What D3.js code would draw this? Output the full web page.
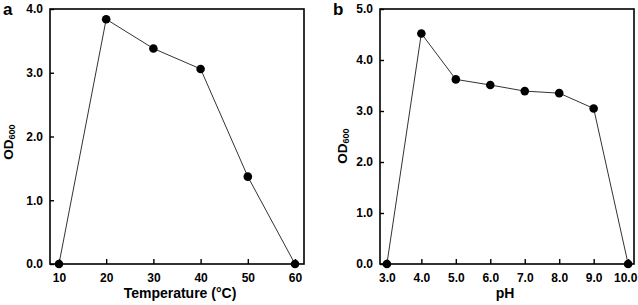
<!DOCTYPE html>
<html><head><meta charset="utf-8">
<script src="https://cdn.jsdelivr.net/npm/d3@7"></script>
<style>body{margin:0;background:#fff}svg{display:block}text{font-family:"Liberation Sans",Arial,sans-serif;font-weight:bold;fill:#000}</style>
</head><body>
<svg id="c" width="638" height="305"></svg>
<script>
const tempX = [10, 20, 30, 40, 50, 60];
const tempOD = [0, 3.84, 3.38, 3.06, 1.37, 0];
const tempTicks = [10, 20, 30, 40, 50, 60];
const tempYTicks = [0, 1, 2, 3, 4];

const phX = [3, 4, 5, 6, 7, 8, 9, 10];
const phOD = [0, 4.52, 3.62, 3.51, 3.39, 3.35, 3.05, 0];
const phTicks = [3, 4, 5, 6, 7, 8, 9, 10];
const phYTicks = [0, 1, 2, 3, 4, 5];

const svg = d3.select("#c");
const FF = '"Liberation Sans",Arial,sans-serif';

function panel(o) {
  const g = svg.append("g");
  const x = d3.scaleLinear().domain(o.xd).range([o.left, o.right]);
  const y = d3.scaleLinear().domain(o.yd).range([o.bottom, o.top]);
  g.append("rect").attr("x", o.left).attr("y", o.top)
    .attr("width", o.right - o.left).attr("height", o.bottom - o.top)
    .attr("fill", "none").attr("stroke", "#000").attr("stroke-width", 1.6);
  const xa = g.append("g").attr("transform", `translate(0,${o.bottom})`)
    .call(d3.axisBottom(x).tickValues(o.xt).tickSize(-5).tickPadding(9).tickFormat(o.xf));
  xa.select(".domain").remove();
  xa.selectAll("line").attr("stroke", "#000").attr("stroke-width", 1.4);
  xa.selectAll("text").attr("font-size", 12).attr("font-family", FF).attr("font-weight", "bold").attr("fill", "#000")
    .attr("dx", (d, i, n) => i === n.length - 1 ? o.lastDx : 0);
  const ya = g.append("g").attr("transform", `translate(${o.left},0)`)
    .call(d3.axisLeft(y).tickValues(o.yt).tickSize(-4).tickPadding(7).tickFormat(d3.format(".1f")));
  ya.select(".domain").remove();
  ya.selectAll("line").attr("stroke", "#000").attr("stroke-width", 1.4);
  ya.selectAll("text").attr("font-size", 12).attr("font-family", FF).attr("font-weight", "bold").attr("fill", "#000");
  const pts = o.xs.map((v, i) => [v, o.ys[i]]);
  g.append("path").datum(pts)
    .attr("d", d3.line().x(d => x(d[0])).y(d => y(d[1])))
    .attr("fill", "none").attr("stroke", "#333").attr("stroke-width", 1);
  g.selectAll("circle.m").data(pts).join("circle").attr("class", "m")
    .attr("cx", d => x(d[0])).attr("cy", d => y(d[1])).attr("r", 4.3).attr("fill", "#000");
  g.append("text").attr("x", o.letterX).attr("y", 15).attr("font-size", 17).text(o.letter);
  const yl = g.append("text").attr("transform", `translate(${o.ylX},${o.ylY}) rotate(-90)`)
    .attr("text-anchor", "middle").attr("font-size", 13.5);
  yl.append("tspan").text("OD");
  yl.append("tspan").attr("font-size", 9).attr("dy", 2).text("600");
  g.append("text").attr("x", (o.left + o.right) / 2 + o.xlDx).attr("y", 298)
    .attr("text-anchor", "middle").attr("font-size", 14).text(o.xlabel);
}

panel({
  xs: tempX, ys: tempOD, xt: tempTicks, yt: tempYTicks,
  xd: [8.1, 61.9], yd: [0, 4],
  left: 50, right: 304, top: 9, bottom: 264,
  xf: d3.format("d"), letter: "a", letterX: 3, lastDx: 0,
  ylX: 13, ylY: 142, xlabel: "Temperature (°C)", xlDx: 3
});
panel({
  xs: phX, ys: phOD, xt: phTicks, yt: phYTicks,
  xd: [2.8, 10.17], yd: [0, 5],
  left: 380, right: 634, top: 9, bottom: 264,
  xf: d3.format(".1f"), letter: "b", letterX: 333, lastDx: -3,
  ylX: 347, ylY: 146, xlabel: "pH", xlDx: -2
});
</script>
</body></html>
